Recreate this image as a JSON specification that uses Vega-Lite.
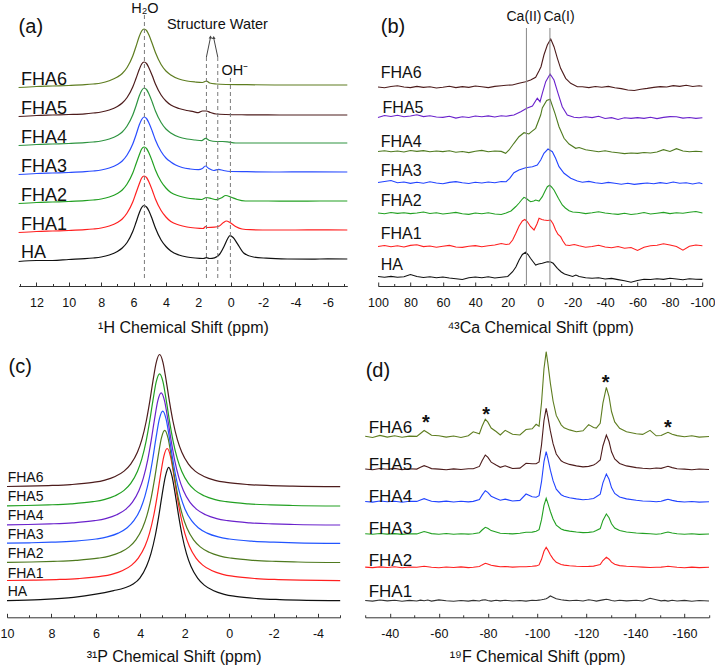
{
"$schema":"https://vega.github.io/schema/vega-lite/v6.json",
"background":"white",
"padding":0,
"config":{"font":"Liberation Sans","view":{"stroke":null},
"axis":{"grid":false,"labelFont":"Liberation Sans","titleFont":"Liberation Sans","labelFontSize":12.5,"titleFontSize":16,"titleFontWeight":"normal","labelColor":"#111","titleColor":"#111","domainColor":"#333","tickColor":"#333","labelFlush":false,"labelOverlap":false,"tickSize":-4,"labelPadding":14,"titlePadding":9,"labelExpr":"replace(datum.label, '−', '-')"},
"text":{"font":"Liberation Sans","color":"#111"}},
"datasets":{
"a":[
{"s":"HA","x":13.1,"y":24.5},{"s":"HA","x":12,"y":25.5},{"s":"HA","x":11,"y":25.5},{"s":"HA","x":10,"y":26.5},{"s":"HA","x":9,"y":27.3},{"s":"HA","x":8.5,"y":28},{"s":"HA","x":8,"y":29},{"s":"HA","x":7.5,"y":31},{"s":"HA","x":7,"y":34.5},{"s":"HA","x":6.7,"y":38},{"s":"HA","x":6.4,"y":43.5},{"s":"HA","x":6.05,"y":54.5},{"s":"HA","x":5.85,"y":63.5},{"s":"HA","x":5.65,"y":73},{"s":"HA","x":5.5,"y":78.5},{"s":"HA","x":5.35,"y":80.5},{"s":"HA","x":5.2,"y":79},{"s":"HA","x":5.05,"y":75},{"s":"HA","x":4.85,"y":67},{"s":"HA","x":4.65,"y":58},{"s":"HA","x":4.3,"y":46},{"s":"HA","x":4,"y":39.5},{"s":"HA","x":3.7,"y":35},{"s":"HA","x":3.2,"y":31},{"s":"HA","x":2.7,"y":29},{"s":"HA","x":2.2,"y":28},{"s":"HA","x":1.7,"y":27.5},{"s":"HA","x":1.5,"y":28.3},{"s":"HA","x":1.3,"y":27.5},{"s":"HA","x":1,"y":28.2},{"s":"HA","x":0.7,"y":31.5},{"s":"HA","x":0.4,"y":40},{"s":"HA","x":0.2,"y":47},{"s":"HA","x":0.05,"y":50.3},{"s":"HA","x":-0.15,"y":48.5},{"s":"HA","x":-0.4,"y":42.7},{"s":"HA","x":-0.8,"y":33},{"s":"HA","x":-1.4,"y":29},{"s":"HA","x":-2.2,"y":27.8},{"s":"HA","x":-3.5,"y":27},{"s":"HA","x":-5,"y":26.8},{"s":"HA","x":-6,"y":27.2},{"s":"HA","x":-7.2,"y":27},
{"s":"FHA1","x":13.1,"y":53.5},{"s":"FHA1","x":12,"y":54.5},{"s":"FHA1","x":11,"y":55},{"s":"FHA1","x":10,"y":55.5},{"s":"FHA1","x":9,"y":56.3},{"s":"FHA1","x":8.5,"y":57},{"s":"FHA1","x":8,"y":58},{"s":"FHA1","x":7.5,"y":60},{"s":"FHA1","x":7,"y":63.5},{"s":"FHA1","x":6.7,"y":67},{"s":"FHA1","x":6.4,"y":73},{"s":"FHA1","x":6.05,"y":84},{"s":"FHA1","x":5.85,"y":93},{"s":"FHA1","x":5.65,"y":102},{"s":"FHA1","x":5.5,"y":108},{"s":"FHA1","x":5.35,"y":110},{"s":"FHA1","x":5.2,"y":108.5},{"s":"FHA1","x":5.05,"y":104},{"s":"FHA1","x":4.85,"y":96},{"s":"FHA1","x":4.65,"y":87},{"s":"FHA1","x":4.3,"y":75.5},{"s":"FHA1","x":4,"y":69},{"s":"FHA1","x":3.7,"y":64.5},{"s":"FHA1","x":3.2,"y":61},{"s":"FHA1","x":2.7,"y":59},{"s":"FHA1","x":2.2,"y":58},{"s":"FHA1","x":1.7,"y":57.5},{"s":"FHA1","x":1.55,"y":59.5},{"s":"FHA1","x":1.45,"y":58.5},{"s":"FHA1","x":1,"y":58.8},{"s":"FHA1","x":0.7,"y":60},{"s":"FHA1","x":0.45,"y":63.5},{"s":"FHA1","x":0.26,"y":65},{"s":"FHA1","x":0.05,"y":63.5},{"s":"FHA1","x":-0.3,"y":59.5},{"s":"FHA1","x":-0.7,"y":57},{"s":"FHA1","x":-1.2,"y":56.3},{"s":"FHA1","x":-2.5,"y":56},{"s":"FHA1","x":-4,"y":56},{"s":"FHA1","x":-5.5,"y":56.2},{"s":"FHA1","x":-7.2,"y":56},
{"s":"FHA2","x":13.1,"y":82.5},{"s":"FHA2","x":12,"y":83.5},{"s":"FHA2","x":11,"y":84},{"s":"FHA2","x":10,"y":84.5},{"s":"FHA2","x":9,"y":85.3},{"s":"FHA2","x":8.5,"y":86},{"s":"FHA2","x":8,"y":87},{"s":"FHA2","x":7.5,"y":89},{"s":"FHA2","x":7,"y":92.5},{"s":"FHA2","x":6.7,"y":96},{"s":"FHA2","x":6.4,"y":102},{"s":"FHA2","x":6.05,"y":113},{"s":"FHA2","x":5.85,"y":122},{"s":"FHA2","x":5.65,"y":131},{"s":"FHA2","x":5.5,"y":137},{"s":"FHA2","x":5.35,"y":139},{"s":"FHA2","x":5.2,"y":137.5},{"s":"FHA2","x":5.05,"y":133},{"s":"FHA2","x":4.85,"y":125},{"s":"FHA2","x":4.65,"y":116},{"s":"FHA2","x":4.3,"y":104.5},{"s":"FHA2","x":4,"y":98},{"s":"FHA2","x":3.7,"y":93.5},{"s":"FHA2","x":3.2,"y":90},{"s":"FHA2","x":2.7,"y":88},{"s":"FHA2","x":2.2,"y":87},{"s":"FHA2","x":1.8,"y":86.5},{"s":"FHA2","x":1.5,"y":88.5},{"s":"FHA2","x":1.2,"y":87.5},{"s":"FHA2","x":0.9,"y":86.3},{"s":"FHA2","x":0.6,"y":88},{"s":"FHA2","x":0.3,"y":90.5},{"s":"FHA2","x":0,"y":89},{"s":"FHA2","x":-0.4,"y":86.5},{"s":"FHA2","x":-0.9,"y":85},{"s":"FHA2","x":-2,"y":85},{"s":"FHA2","x":-4,"y":84.8},{"s":"FHA2","x":-5.5,"y":85},{"s":"FHA2","x":-7.2,"y":85},
{"s":"FHA3","x":13.1,"y":111.5},{"s":"FHA3","x":12,"y":112.5},{"s":"FHA3","x":11,"y":113},{"s":"FHA3","x":10,"y":113.5},{"s":"FHA3","x":9,"y":114.3},{"s":"FHA3","x":8.5,"y":115},{"s":"FHA3","x":8,"y":116},{"s":"FHA3","x":7.5,"y":118},{"s":"FHA3","x":7,"y":121.5},{"s":"FHA3","x":6.7,"y":125},{"s":"FHA3","x":6.4,"y":131},{"s":"FHA3","x":6.05,"y":142},{"s":"FHA3","x":5.85,"y":151},{"s":"FHA3","x":5.65,"y":161},{"s":"FHA3","x":5.5,"y":166.5},{"s":"FHA3","x":5.35,"y":169},{"s":"FHA3","x":5.2,"y":167.5},{"s":"FHA3","x":5.05,"y":163},{"s":"FHA3","x":4.85,"y":155},{"s":"FHA3","x":4.65,"y":146},{"s":"FHA3","x":4.3,"y":134.5},{"s":"FHA3","x":4,"y":128},{"s":"FHA3","x":3.7,"y":124},{"s":"FHA3","x":3.4,"y":121},{"s":"FHA3","x":3,"y":118.5},{"s":"FHA3","x":2.5,"y":117},{"s":"FHA3","x":2,"y":116.3},{"s":"FHA3","x":1.75,"y":117.5},{"s":"FHA3","x":1.57,"y":120},{"s":"FHA3","x":1.35,"y":117.5},{"s":"FHA3","x":1.05,"y":115.5},{"s":"FHA3","x":0.75,"y":116.7},{"s":"FHA3","x":0.45,"y":115.5},{"s":"FHA3","x":0,"y":114.5},{"s":"FHA3","x":-1,"y":114.3},{"s":"FHA3","x":-3,"y":114},{"s":"FHA3","x":-5,"y":114.2},{"s":"FHA3","x":-7.2,"y":114},
{"s":"FHA4","x":13.1,"y":140.5},{"s":"FHA4","x":12,"y":141.5},{"s":"FHA4","x":11,"y":142},{"s":"FHA4","x":10,"y":142.5},{"s":"FHA4","x":9,"y":143.3},{"s":"FHA4","x":8.5,"y":144},{"s":"FHA4","x":8,"y":145},{"s":"FHA4","x":7.5,"y":147},{"s":"FHA4","x":7,"y":150.5},{"s":"FHA4","x":6.7,"y":154},{"s":"FHA4","x":6.4,"y":160},{"s":"FHA4","x":6.05,"y":171},{"s":"FHA4","x":5.85,"y":180},{"s":"FHA4","x":5.65,"y":190},{"s":"FHA4","x":5.5,"y":195.5},{"s":"FHA4","x":5.35,"y":198},{"s":"FHA4","x":5.2,"y":196.5},{"s":"FHA4","x":5.05,"y":192},{"s":"FHA4","x":4.85,"y":184},{"s":"FHA4","x":4.65,"y":175},{"s":"FHA4","x":4.3,"y":163.5},{"s":"FHA4","x":4,"y":157},{"s":"FHA4","x":3.7,"y":153},{"s":"FHA4","x":3.2,"y":149},{"s":"FHA4","x":2.7,"y":147},{"s":"FHA4","x":2.2,"y":146},{"s":"FHA4","x":1.8,"y":145.3},{"s":"FHA4","x":1.55,"y":147.7},{"s":"FHA4","x":1.3,"y":145.5},{"s":"FHA4","x":0.9,"y":144.5},{"s":"FHA4","x":0.5,"y":144.5},{"s":"FHA4","x":0.2,"y":144.2},{"s":"FHA4","x":-0.3,"y":143},{"s":"FHA4","x":-1.5,"y":143},{"s":"FHA4","x":-4,"y":143},{"s":"FHA4","x":-7.2,"y":143},
{"s":"FHA5","x":13.1,"y":169.5},{"s":"FHA5","x":12,"y":170.5},{"s":"FHA5","x":11,"y":171},{"s":"FHA5","x":10,"y":171.5},{"s":"FHA5","x":9,"y":172.2},{"s":"FHA5","x":8.5,"y":173},{"s":"FHA5","x":8,"y":174},{"s":"FHA5","x":7.5,"y":176},{"s":"FHA5","x":7,"y":179.5},{"s":"FHA5","x":6.7,"y":183},{"s":"FHA5","x":6.4,"y":188.5},{"s":"FHA5","x":6.05,"y":199},{"s":"FHA5","x":5.85,"y":207.5},{"s":"FHA5","x":5.65,"y":216.5},{"s":"FHA5","x":5.5,"y":222},{"s":"FHA5","x":5.35,"y":224},{"s":"FHA5","x":5.2,"y":222.5},{"s":"FHA5","x":5.05,"y":218},{"s":"FHA5","x":4.85,"y":210.5},{"s":"FHA5","x":4.65,"y":202},{"s":"FHA5","x":4.3,"y":191},{"s":"FHA5","x":4,"y":185},{"s":"FHA5","x":3.7,"y":181},{"s":"FHA5","x":3.2,"y":177.5},{"s":"FHA5","x":2.7,"y":175.5},{"s":"FHA5","x":2.3,"y":174.3},{"s":"FHA5","x":2,"y":173.3},{"s":"FHA5","x":1.75,"y":175},{"s":"FHA5","x":1.5,"y":175},{"s":"FHA5","x":1.25,"y":173.5},{"s":"FHA5","x":0.9,"y":172},{"s":"FHA5","x":0.3,"y":171.5},{"s":"FHA5","x":-1,"y":171.2},{"s":"FHA5","x":-3,"y":171},{"s":"FHA5","x":-5,"y":171},{"s":"FHA5","x":-7.2,"y":171},
{"s":"FHA6","x":13.1,"y":198.5},{"s":"FHA6","x":12,"y":199.5},{"s":"FHA6","x":11,"y":200},{"s":"FHA6","x":10,"y":200.5},{"s":"FHA6","x":9,"y":201.3},{"s":"FHA6","x":8.5,"y":202},{"s":"FHA6","x":8,"y":203},{"s":"FHA6","x":7.5,"y":205.3},{"s":"FHA6","x":7,"y":209},{"s":"FHA6","x":6.7,"y":212.5},{"s":"FHA6","x":6.4,"y":218.5},{"s":"FHA6","x":6.05,"y":230},{"s":"FHA6","x":5.85,"y":239.5},{"s":"FHA6","x":5.65,"y":249.5},{"s":"FHA6","x":5.5,"y":255},{"s":"FHA6","x":5.35,"y":257},{"s":"FHA6","x":5.2,"y":255.5},{"s":"FHA6","x":5.05,"y":251},{"s":"FHA6","x":4.85,"y":242.5},{"s":"FHA6","x":4.65,"y":233.5},{"s":"FHA6","x":4.3,"y":221.5},{"s":"FHA6","x":4,"y":215},{"s":"FHA6","x":3.7,"y":211},{"s":"FHA6","x":3.2,"y":207},{"s":"FHA6","x":2.7,"y":205},{"s":"FHA6","x":2.2,"y":204},{"s":"FHA6","x":1.75,"y":203.5},{"s":"FHA6","x":1.5,"y":205},{"s":"FHA6","x":1.3,"y":203},{"s":"FHA6","x":0.9,"y":202},{"s":"FHA6","x":0.3,"y":201.5},{"s":"FHA6","x":-1,"y":201.3},{"s":"FHA6","x":-3,"y":201},{"s":"FHA6","x":-5,"y":201},{"s":"FHA6","x":-7.2,"y":201}
],
"b":[
{"s":"HA","x":100,"y":9.5},{"s":"HA","x":96,"y":8.8},{"s":"HA","x":92,"y":9.6},{"s":"HA","x":88,"y":8.7},{"s":"HA","x":84,"y":9.2},{"s":"HA","x":80,"y":11.5},{"s":"HA","x":76,"y":9.5},{"s":"HA","x":72,"y":8.5},{"s":"HA","x":68,"y":9.3},{"s":"HA","x":64,"y":8.2},{"s":"HA","x":60,"y":9},{"s":"HA","x":56,"y":8},{"s":"HA","x":52,"y":7.3},{"s":"HA","x":48,"y":6.5},{"s":"HA","x":44,"y":8.3},{"s":"HA","x":40,"y":9},{"s":"HA","x":36,"y":8.2},{"s":"HA","x":32,"y":9.2},{"s":"HA","x":28,"y":8},{"s":"HA","x":24,"y":8.8},{"s":"HA","x":20,"y":9.5},{"s":"HA","x":17,"y":14.3},{"s":"HA","x":15,"y":19},{"s":"HA","x":13,"y":26},{"s":"HA","x":11,"y":31.5},{"s":"HA","x":9,"y":33.7},{"s":"HA","x":7.5,"y":31.5},{"s":"HA","x":6,"y":27.7},{"s":"HA","x":4,"y":23.5},{"s":"HA","x":2.8,"y":21},{"s":"HA","x":1,"y":22},{"s":"HA","x":-1.3,"y":22.7},{"s":"HA","x":-4.4,"y":24.3},{"s":"HA","x":-6.5,"y":24},{"s":"HA","x":-8,"y":22.7},{"s":"HA","x":-10.6,"y":17.7},{"s":"HA","x":-13,"y":14},{"s":"HA","x":-15,"y":12},{"s":"HA","x":-18,"y":10.5},{"s":"HA","x":-20,"y":9.5},{"s":"HA","x":-22,"y":11},{"s":"HA","x":-24,"y":9.5},{"s":"HA","x":-28,"y":8.3},{"s":"HA","x":-32,"y":7.7},{"s":"HA","x":-36,"y":8.2},{"s":"HA","x":-40,"y":7},{"s":"HA","x":-44,"y":7.6},{"s":"HA","x":-48,"y":6.4},{"s":"HA","x":-52,"y":5.3},{"s":"HA","x":-56,"y":3.8},{"s":"HA","x":-60,"y":5.5},{"s":"HA","x":-64,"y":6.8},{"s":"HA","x":-68,"y":6.5},{"s":"HA","x":-72,"y":7.3},{"s":"HA","x":-76,"y":6.6},{"s":"HA","x":-80,"y":7.8},{"s":"HA","x":-84,"y":7},{"s":"HA","x":-88,"y":6.3},{"s":"HA","x":-92,"y":7.2},{"s":"HA","x":-96,"y":6.8},{"s":"HA","x":-100,"y":6.6},
{"s":"FHA1","x":100,"y":39.5},{"s":"FHA1","x":96,"y":40.5},{"s":"FHA1","x":92,"y":39.2},{"s":"FHA1","x":88,"y":40.3},{"s":"FHA1","x":84,"y":39},{"s":"FHA1","x":80,"y":40.6},{"s":"FHA1","x":76,"y":41.2},{"s":"FHA1","x":72,"y":39.4},{"s":"FHA1","x":68,"y":40},{"s":"FHA1","x":64,"y":38.8},{"s":"FHA1","x":60,"y":39.8},{"s":"FHA1","x":56,"y":40.6},{"s":"FHA1","x":52,"y":39},{"s":"FHA1","x":48,"y":38.6},{"s":"FHA1","x":44,"y":39.8},{"s":"FHA1","x":40,"y":40.4},{"s":"FHA1","x":36,"y":39.2},{"s":"FHA1","x":32,"y":40.2},{"s":"FHA1","x":28,"y":41},{"s":"FHA1","x":24,"y":42.5},{"s":"FHA1","x":21,"y":41.5},{"s":"FHA1","x":19,"y":42},{"s":"FHA1","x":17,"y":46},{"s":"FHA1","x":15,"y":52.7},{"s":"FHA1","x":13,"y":60},{"s":"FHA1","x":11,"y":65},{"s":"FHA1","x":9.5,"y":66.5},{"s":"FHA1","x":8,"y":64.5},{"s":"FHA1","x":6,"y":59.5},{"s":"FHA1","x":3.8,"y":56},{"s":"FHA1","x":2,"y":62},{"s":"FHA1","x":0.7,"y":67.7},{"s":"FHA1","x":-1,"y":66.5},{"s":"FHA1","x":-2.3,"y":66},{"s":"FHA1","x":-4.5,"y":65.5},{"s":"FHA1","x":-6.4,"y":66},{"s":"FHA1","x":-8,"y":62},{"s":"FHA1","x":-9.5,"y":56},{"s":"FHA1","x":-11,"y":51.5},{"s":"FHA1","x":-12.6,"y":49.3},{"s":"FHA1","x":-14,"y":45},{"s":"FHA1","x":-15.7,"y":41},{"s":"FHA1","x":-18,"y":40.5},{"s":"FHA1","x":-21,"y":41.5},{"s":"FHA1","x":-24,"y":40.2},{"s":"FHA1","x":-28,"y":38.8},{"s":"FHA1","x":-32,"y":39.5},{"s":"FHA1","x":-36,"y":40.8},{"s":"FHA1","x":-40,"y":39},{"s":"FHA1","x":-44,"y":38.2},{"s":"FHA1","x":-48,"y":39.5},{"s":"FHA1","x":-52,"y":37.8},{"s":"FHA1","x":-56,"y":38.5},{"s":"FHA1","x":-60,"y":35.5},{"s":"FHA1","x":-64,"y":38.8},{"s":"FHA1","x":-68,"y":40.2},{"s":"FHA1","x":-72,"y":40.8},{"s":"FHA1","x":-76,"y":42.2},{"s":"FHA1","x":-80,"y":41},{"s":"FHA1","x":-84,"y":39.5},{"s":"FHA1","x":-88,"y":35.8},{"s":"FHA1","x":-92,"y":39.8},{"s":"FHA1","x":-96,"y":41},{"s":"FHA1","x":-100,"y":40.3},
{"s":"FHA2","x":100,"y":73},{"s":"FHA2","x":96,"y":72.2},{"s":"FHA2","x":92,"y":73.5},{"s":"FHA2","x":88,"y":72.6},{"s":"FHA2","x":84,"y":73.3},{"s":"FHA2","x":80,"y":72.4},{"s":"FHA2","x":76,"y":73},{"s":"FHA2","x":72,"y":74},{"s":"FHA2","x":68,"y":72.5},{"s":"FHA2","x":64,"y":73.2},{"s":"FHA2","x":60,"y":72},{"s":"FHA2","x":56,"y":72.8},{"s":"FHA2","x":52,"y":73.6},{"s":"FHA2","x":48,"y":72.3},{"s":"FHA2","x":44,"y":71.6},{"s":"FHA2","x":40,"y":73},{"s":"FHA2","x":36,"y":72.2},{"s":"FHA2","x":32,"y":73.3},{"s":"FHA2","x":28,"y":72},{"s":"FHA2","x":24,"y":71.5},{"s":"FHA2","x":21,"y":73},{"s":"FHA2","x":18,"y":75},{"s":"FHA2","x":15,"y":79.5},{"s":"FHA2","x":13,"y":83},{"s":"FHA2","x":11,"y":87},{"s":"FHA2","x":10,"y":88.7},{"s":"FHA2","x":8.5,"y":87.5},{"s":"FHA2","x":7,"y":85.5},{"s":"FHA2","x":5.9,"y":84.3},{"s":"FHA2","x":4,"y":85},{"s":"FHA2","x":2.8,"y":86},{"s":"FHA2","x":0.7,"y":85},{"s":"FHA2","x":-1.3,"y":89.3},{"s":"FHA2","x":-3,"y":95},{"s":"FHA2","x":-4.4,"y":99.3},{"s":"FHA2","x":-5.8,"y":100.7},{"s":"FHA2","x":-7,"y":99},{"s":"FHA2","x":-8.5,"y":96},{"s":"FHA2","x":-11.2,"y":87.7},{"s":"FHA2","x":-13.6,"y":81},{"s":"FHA2","x":-15.5,"y":78},{"s":"FHA2","x":-17.8,"y":75.3},{"s":"FHA2","x":-20,"y":74},{"s":"FHA2","x":-24,"y":73.5},{"s":"FHA2","x":-28,"y":72.4},{"s":"FHA2","x":-32,"y":73.2},{"s":"FHA2","x":-36,"y":74.2},{"s":"FHA2","x":-40,"y":73},{"s":"FHA2","x":-44,"y":72.2},{"s":"FHA2","x":-48,"y":71.6},{"s":"FHA2","x":-52,"y":72.8},{"s":"FHA2","x":-56,"y":71.5},{"s":"FHA2","x":-60,"y":72.3},{"s":"FHA2","x":-64,"y":73.5},{"s":"FHA2","x":-68,"y":72},{"s":"FHA2","x":-72,"y":72.8},{"s":"FHA2","x":-76,"y":73.6},{"s":"FHA2","x":-80,"y":72.4},{"s":"FHA2","x":-84,"y":73.2},{"s":"FHA2","x":-88,"y":72.7},{"s":"FHA2","x":-92,"y":73.8},{"s":"FHA2","x":-96,"y":74.5},{"s":"FHA2","x":-100,"y":73},
{"s":"FHA3","x":100,"y":103.5},{"s":"FHA3","x":96,"y":104.5},{"s":"FHA3","x":92,"y":105.5},{"s":"FHA3","x":88,"y":103.2},{"s":"FHA3","x":84,"y":104},{"s":"FHA3","x":80,"y":102.6},{"s":"FHA3","x":76,"y":103.8},{"s":"FHA3","x":72,"y":102.8},{"s":"FHA3","x":68,"y":104.2},{"s":"FHA3","x":64,"y":103},{"s":"FHA3","x":60,"y":102.2},{"s":"FHA3","x":56,"y":103.6},{"s":"FHA3","x":52,"y":104.4},{"s":"FHA3","x":48,"y":103.2},{"s":"FHA3","x":44,"y":102.5},{"s":"FHA3","x":40,"y":103.8},{"s":"FHA3","x":36,"y":103},{"s":"FHA3","x":32,"y":104},{"s":"FHA3","x":28,"y":103.2},{"s":"FHA3","x":24,"y":104.5},{"s":"FHA3","x":21,"y":104.3},{"s":"FHA3","x":18.8,"y":107.7},{"s":"FHA3","x":16.2,"y":113.3},{"s":"FHA3","x":13.1,"y":116},{"s":"FHA3","x":9,"y":118.3},{"s":"FHA3","x":4.8,"y":119.3},{"s":"FHA3","x":1.8,"y":121},{"s":"FHA3","x":-0.3,"y":126},{"s":"FHA3","x":-2.3,"y":132.7},{"s":"FHA3","x":-4.8,"y":137},{"s":"FHA3","x":-7.5,"y":134.3},{"s":"FHA3","x":-9.5,"y":127.7},{"s":"FHA3","x":-11.6,"y":119.3},{"s":"FHA3","x":-14.7,"y":112.7},{"s":"FHA3","x":-18.8,"y":107.7},{"s":"FHA3","x":-22.9,"y":105},{"s":"FHA3","x":-26,"y":103.8},{"s":"FHA3","x":-30,"y":104.6},{"s":"FHA3","x":-34,"y":103.2},{"s":"FHA3","x":-38,"y":102.5},{"s":"FHA3","x":-42,"y":103.6},{"s":"FHA3","x":-46,"y":102.7},{"s":"FHA3","x":-50,"y":101.8},{"s":"FHA3","x":-54,"y":102.8},{"s":"FHA3","x":-58,"y":101.6},{"s":"FHA3","x":-62,"y":102.4},{"s":"FHA3","x":-66,"y":103},{"s":"FHA3","x":-70,"y":102.2},{"s":"FHA3","x":-74,"y":103.4},{"s":"FHA3","x":-78,"y":102.5},{"s":"FHA3","x":-82,"y":104},{"s":"FHA3","x":-86,"y":102.8},{"s":"FHA3","x":-90,"y":103.2},{"s":"FHA3","x":-94,"y":102},{"s":"FHA3","x":-98,"y":103.3},{"s":"FHA3","x":-100,"y":102.2},
{"s":"FHA4","x":100,"y":134.5},{"s":"FHA4","x":96,"y":135.3},{"s":"FHA4","x":92,"y":134.2},{"s":"FHA4","x":88,"y":135},{"s":"FHA4","x":84,"y":134},{"s":"FHA4","x":80,"y":135.5},{"s":"FHA4","x":76,"y":134.6},{"s":"FHA4","x":72,"y":135.4},{"s":"FHA4","x":68,"y":134.2},{"s":"FHA4","x":64,"y":135},{"s":"FHA4","x":60,"y":134.4},{"s":"FHA4","x":56,"y":135.2},{"s":"FHA4","x":52,"y":133.8},{"s":"FHA4","x":48,"y":134.5},{"s":"FHA4","x":44,"y":133.4},{"s":"FHA4","x":40,"y":134.8},{"s":"FHA4","x":36,"y":135.6},{"s":"FHA4","x":32,"y":134.2},{"s":"FHA4","x":28,"y":135},{"s":"FHA4","x":24,"y":134.6},{"s":"FHA4","x":21.3,"y":132.7},{"s":"FHA4","x":19.2,"y":136},{"s":"FHA4","x":16.2,"y":142.7},{"s":"FHA4","x":13.1,"y":149.3},{"s":"FHA4","x":10,"y":153.3},{"s":"FHA4","x":7,"y":152},{"s":"FHA4","x":5.3,"y":154.3},{"s":"FHA4","x":2.8,"y":157.7},{"s":"FHA4","x":-0.3,"y":171},{"s":"FHA4","x":-1.3,"y":178},{"s":"FHA4","x":-4,"y":185.5},{"s":"FHA4","x":-6.1,"y":186.7},{"s":"FHA4","x":-9.1,"y":172.7},{"s":"FHA4","x":-11.6,"y":159.3},{"s":"FHA4","x":-14.7,"y":147.7},{"s":"FHA4","x":-17.8,"y":142},{"s":"FHA4","x":-21.9,"y":137.7},{"s":"FHA4","x":-24,"y":138.5},{"s":"FHA4","x":-28,"y":136.2},{"s":"FHA4","x":-32,"y":135.3},{"s":"FHA4","x":-36,"y":134.2},{"s":"FHA4","x":-40,"y":135.2},{"s":"FHA4","x":-44,"y":134},{"s":"FHA4","x":-48,"y":133.2},{"s":"FHA4","x":-52,"y":132.4},{"s":"FHA4","x":-56,"y":133},{"s":"FHA4","x":-60,"y":132.6},{"s":"FHA4","x":-64,"y":133.5},{"s":"FHA4","x":-68,"y":133},{"s":"FHA4","x":-72,"y":134},{"s":"FHA4","x":-76,"y":136.3},{"s":"FHA4","x":-80,"y":134.5},{"s":"FHA4","x":-84,"y":137.3},{"s":"FHA4","x":-88,"y":135},{"s":"FHA4","x":-92,"y":134.2},{"s":"FHA4","x":-96,"y":134.8},{"s":"FHA4","x":-100,"y":134.3},
{"s":"FHA5","x":100,"y":168.5},{"s":"FHA5","x":96,"y":170.5},{"s":"FHA5","x":92,"y":169.5},{"s":"FHA5","x":88,"y":170.8},{"s":"FHA5","x":84,"y":169.2},{"s":"FHA5","x":80,"y":170},{"s":"FHA5","x":76,"y":171.3},{"s":"FHA5","x":72,"y":169.4},{"s":"FHA5","x":68,"y":170.2},{"s":"FHA5","x":64,"y":169},{"s":"FHA5","x":60,"y":168.6},{"s":"FHA5","x":56,"y":169.8},{"s":"FHA5","x":52,"y":167.9},{"s":"FHA5","x":48,"y":169.2},{"s":"FHA5","x":44,"y":168.5},{"s":"FHA5","x":40,"y":170},{"s":"FHA5","x":36,"y":169.3},{"s":"FHA5","x":32,"y":170.1},{"s":"FHA5","x":28,"y":169},{"s":"FHA5","x":24,"y":170.3},{"s":"FHA5","x":21,"y":169.8},{"s":"FHA5","x":16.2,"y":171},{"s":"FHA5","x":12,"y":174.3},{"s":"FHA5","x":8.3,"y":177.7},{"s":"FHA5","x":4.8,"y":180},{"s":"FHA5","x":1.8,"y":187.7},{"s":"FHA5","x":0.1,"y":184.3},{"s":"FHA5","x":-1.3,"y":192.7},{"s":"FHA5","x":-3.4,"y":204.3},{"s":"FHA5","x":-6.1,"y":212},{"s":"FHA5","x":-8.5,"y":206},{"s":"FHA5","x":-11,"y":192.7},{"s":"FHA5","x":-13.6,"y":179.3},{"s":"FHA5","x":-16.7,"y":171},{"s":"FHA5","x":-20.8,"y":168.7},{"s":"FHA5","x":-24,"y":168.3},{"s":"FHA5","x":-28,"y":169.2},{"s":"FHA5","x":-32,"y":168.4},{"s":"FHA5","x":-36,"y":169.8},{"s":"FHA5","x":-40,"y":167.5},{"s":"FHA5","x":-44,"y":168.4},{"s":"FHA5","x":-48,"y":166.5},{"s":"FHA5","x":-52,"y":168.2},{"s":"FHA5","x":-56,"y":167.6},{"s":"FHA5","x":-60,"y":168.4},{"s":"FHA5","x":-64,"y":167.6},{"s":"FHA5","x":-68,"y":168.8},{"s":"FHA5","x":-72,"y":167.4},{"s":"FHA5","x":-76,"y":168.6},{"s":"FHA5","x":-80,"y":169.4},{"s":"FHA5","x":-84,"y":169.2},{"s":"FHA5","x":-88,"y":167.9},{"s":"FHA5","x":-92,"y":168.5},{"s":"FHA5","x":-96,"y":167.6},{"s":"FHA5","x":-100,"y":168.2},
{"s":"FHA6","x":100,"y":199},{"s":"FHA6","x":96,"y":198.2},{"s":"FHA6","x":92,"y":199.5},{"s":"FHA6","x":88,"y":200.2},{"s":"FHA6","x":84,"y":199},{"s":"FHA6","x":80,"y":198.4},{"s":"FHA6","x":76,"y":199.6},{"s":"FHA6","x":72,"y":198.6},{"s":"FHA6","x":68,"y":199.3},{"s":"FHA6","x":64,"y":198},{"s":"FHA6","x":60,"y":198.8},{"s":"FHA6","x":56,"y":199.8},{"s":"FHA6","x":52,"y":198.4},{"s":"FHA6","x":48,"y":199.4},{"s":"FHA6","x":44,"y":198.6},{"s":"FHA6","x":40,"y":200},{"s":"FHA6","x":36,"y":199.2},{"s":"FHA6","x":32,"y":198.4},{"s":"FHA6","x":28,"y":199.6},{"s":"FHA6","x":24,"y":200.3},{"s":"FHA6","x":21,"y":200.8},{"s":"FHA6","x":17.2,"y":201},{"s":"FHA6","x":13.1,"y":202.7},{"s":"FHA6","x":9,"y":204.3},{"s":"FHA6","x":5.9,"y":206},{"s":"FHA6","x":2.8,"y":208.7},{"s":"FHA6","x":0.7,"y":215.3},{"s":"FHA6","x":-0.5,"y":219.3},{"s":"FHA6","x":-2.3,"y":231},{"s":"FHA6","x":-4.4,"y":241},{"s":"FHA6","x":-6.5,"y":247},{"s":"FHA6","x":-8.5,"y":239.3},{"s":"FHA6","x":-10.6,"y":227.7},{"s":"FHA6","x":-12.6,"y":217.7},{"s":"FHA6","x":-15.7,"y":207.7},{"s":"FHA6","x":-18.8,"y":202.7},{"s":"FHA6","x":-22.9,"y":199.3},{"s":"FHA6","x":-26,"y":199.2},{"s":"FHA6","x":-30,"y":198.4},{"s":"FHA6","x":-34,"y":199.5},{"s":"FHA6","x":-38,"y":198.8},{"s":"FHA6","x":-42,"y":199.6},{"s":"FHA6","x":-46,"y":198.2},{"s":"FHA6","x":-50,"y":197.4},{"s":"FHA6","x":-54,"y":196},{"s":"FHA6","x":-58,"y":195.5},{"s":"FHA6","x":-62,"y":196.8},{"s":"FHA6","x":-66,"y":197.6},{"s":"FHA6","x":-70,"y":198.6},{"s":"FHA6","x":-74,"y":199.4},{"s":"FHA6","x":-78,"y":199},{"s":"FHA6","x":-82,"y":200.4},{"s":"FHA6","x":-86,"y":199.6},{"s":"FHA6","x":-90,"y":200.8},{"s":"FHA6","x":-94,"y":199.5},{"s":"FHA6","x":-98,"y":200.2},{"s":"FHA6","x":-100,"y":199.8}
],
"c":[
{"s":"HA","x":10,"y":16.7},{"s":"HA","x":8.5,"y":17.7},{"s":"HA","x":7,"y":19.9},{"s":"HA","x":6,"y":23.1},{"s":"HA","x":5.2,"y":26.7},{"s":"HA","x":4.72,"y":29.3},{"s":"HA","x":4.32,"y":33.2},{"s":"HA","x":4.02,"y":39.2},{"s":"HA","x":3.72,"y":51},{"s":"HA","x":3.52,"y":63.7},{"s":"HA","x":3.32,"y":82.3},{"s":"HA","x":3.17,"y":100.9},{"s":"HA","x":3.02,"y":122.2},{"s":"HA","x":2.87,"y":141},{"s":"HA","x":2.72,"y":150},{"s":"HA","x":2.57,"y":141},{"s":"HA","x":2.42,"y":122.2},{"s":"HA","x":2.27,"y":100.9},{"s":"HA","x":2.12,"y":82.3},{"s":"HA","x":1.92,"y":63.7},{"s":"HA","x":1.72,"y":51},{"s":"HA","x":1.42,"y":39.2},{"s":"HA","x":1.12,"y":32.2},{"s":"HA","x":0.72,"y":26.8},{"s":"HA","x":0.22,"y":23},{"s":"HA","x":-0.28,"y":20.9},{"s":"HA","x":-1.28,"y":18.7},{"s":"HA","x":-2.28,"y":17.7},{"s":"HA","x":-3.5,"y":17},{"s":"HA","x":-5,"y":16.6},
{"s":"FHA1","x":10,"y":36.8},{"s":"FHA1","x":8.79,"y":37.1},{"s":"FHA1","x":7.79,"y":37.7},{"s":"FHA1","x":6.79,"y":38.7},{"s":"FHA1","x":5.79,"y":40.9},{"s":"FHA1","x":5.29,"y":43},{"s":"FHA1","x":4.79,"y":46.8},{"s":"FHA1","x":4.39,"y":52.2},{"s":"FHA1","x":4.09,"y":59.2},{"s":"FHA1","x":3.79,"y":71},{"s":"FHA1","x":3.59,"y":83.7},{"s":"FHA1","x":3.39,"y":102.3},{"s":"FHA1","x":3.24,"y":120.9},{"s":"FHA1","x":3.09,"y":142.2},{"s":"FHA1","x":2.94,"y":161},{"s":"FHA1","x":2.79,"y":168.8},{"s":"FHA1","x":2.64,"y":161},{"s":"FHA1","x":2.49,"y":142.2},{"s":"FHA1","x":2.34,"y":120.9},{"s":"FHA1","x":2.19,"y":102.3},{"s":"FHA1","x":1.99,"y":83.7},{"s":"FHA1","x":1.79,"y":71},{"s":"FHA1","x":1.49,"y":59.2},{"s":"FHA1","x":1.19,"y":52.2},{"s":"FHA1","x":0.79,"y":46.8},{"s":"FHA1","x":0.29,"y":43},{"s":"FHA1","x":-0.21,"y":40.9},{"s":"FHA1","x":-1.21,"y":38.7},{"s":"FHA1","x":-2.21,"y":37.7},{"s":"FHA1","x":-3.21,"y":37.1},{"s":"FHA1","x":-5,"y":36.6},
{"s":"FHA2","x":10,"y":55},{"s":"FHA2","x":8.9,"y":55.3},{"s":"FHA2","x":7.9,"y":55.9},{"s":"FHA2","x":6.9,"y":56.9},{"s":"FHA2","x":5.9,"y":59.1},{"s":"FHA2","x":5.4,"y":61.2},{"s":"FHA2","x":4.9,"y":65},{"s":"FHA2","x":4.5,"y":70.4},{"s":"FHA2","x":4.2,"y":77.4},{"s":"FHA2","x":3.9,"y":89.2},{"s":"FHA2","x":3.7,"y":101.9},{"s":"FHA2","x":3.5,"y":120.5},{"s":"FHA2","x":3.35,"y":139.1},{"s":"FHA2","x":3.2,"y":160.4},{"s":"FHA2","x":3.05,"y":179.2},{"s":"FHA2","x":2.9,"y":187},{"s":"FHA2","x":2.75,"y":179.2},{"s":"FHA2","x":2.6,"y":160.4},{"s":"FHA2","x":2.45,"y":139.1},{"s":"FHA2","x":2.3,"y":120.5},{"s":"FHA2","x":2.1,"y":101.9},{"s":"FHA2","x":1.9,"y":89.2},{"s":"FHA2","x":1.6,"y":77.4},{"s":"FHA2","x":1.3,"y":70.4},{"s":"FHA2","x":0.9,"y":65},{"s":"FHA2","x":0.4,"y":61.2},{"s":"FHA2","x":-0.1,"y":59.1},{"s":"FHA2","x":-1.1,"y":56.9},{"s":"FHA2","x":-2.1,"y":55.9},{"s":"FHA2","x":-3.1,"y":55.3},{"s":"FHA2","x":-5,"y":54.8},
{"s":"FHA3","x":10,"y":74.2},{"s":"FHA3","x":8.99,"y":74.5},{"s":"FHA3","x":7.99,"y":75.1},{"s":"FHA3","x":6.99,"y":76.1},{"s":"FHA3","x":5.99,"y":78.3},{"s":"FHA3","x":5.49,"y":80.4},{"s":"FHA3","x":4.99,"y":84.2},{"s":"FHA3","x":4.59,"y":89.6},{"s":"FHA3","x":4.29,"y":96.6},{"s":"FHA3","x":3.99,"y":108.4},{"s":"FHA3","x":3.79,"y":121.1},{"s":"FHA3","x":3.59,"y":139.7},{"s":"FHA3","x":3.44,"y":158.3},{"s":"FHA3","x":3.29,"y":179.6},{"s":"FHA3","x":3.14,"y":198.4},{"s":"FHA3","x":2.99,"y":206.2},{"s":"FHA3","x":2.84,"y":198.4},{"s":"FHA3","x":2.69,"y":179.6},{"s":"FHA3","x":2.54,"y":158.3},{"s":"FHA3","x":2.39,"y":139.7},{"s":"FHA3","x":2.19,"y":121.1},{"s":"FHA3","x":1.99,"y":108.4},{"s":"FHA3","x":1.69,"y":96.6},{"s":"FHA3","x":1.39,"y":89.6},{"s":"FHA3","x":0.99,"y":84.2},{"s":"FHA3","x":0.49,"y":80.4},{"s":"FHA3","x":-0.01,"y":78.3},{"s":"FHA3","x":-1.01,"y":76.1},{"s":"FHA3","x":-2.01,"y":75.1},{"s":"FHA3","x":-3.01,"y":74.5},{"s":"FHA3","x":-5,"y":74},
{"s":"FHA4","x":10,"y":92.5},{"s":"FHA4","x":9.06,"y":92.8},{"s":"FHA4","x":8.06,"y":93.4},{"s":"FHA4","x":7.06,"y":94.4},{"s":"FHA4","x":6.06,"y":96.6},{"s":"FHA4","x":5.56,"y":98.7},{"s":"FHA4","x":5.06,"y":102.5},{"s":"FHA4","x":4.66,"y":107.9},{"s":"FHA4","x":4.36,"y":114.9},{"s":"FHA4","x":4.06,"y":126.7},{"s":"FHA4","x":3.86,"y":139.4},{"s":"FHA4","x":3.66,"y":158},{"s":"FHA4","x":3.51,"y":176.6},{"s":"FHA4","x":3.36,"y":197.9},{"s":"FHA4","x":3.21,"y":216.7},{"s":"FHA4","x":3.06,"y":224.5},{"s":"FHA4","x":2.91,"y":216.7},{"s":"FHA4","x":2.76,"y":197.9},{"s":"FHA4","x":2.61,"y":176.6},{"s":"FHA4","x":2.46,"y":158},{"s":"FHA4","x":2.26,"y":139.4},{"s":"FHA4","x":2.06,"y":126.7},{"s":"FHA4","x":1.76,"y":114.9},{"s":"FHA4","x":1.46,"y":107.9},{"s":"FHA4","x":1.06,"y":102.5},{"s":"FHA4","x":0.56,"y":98.7},{"s":"FHA4","x":0.06,"y":96.6},{"s":"FHA4","x":-0.94,"y":94.4},{"s":"FHA4","x":-1.94,"y":93.4},{"s":"FHA4","x":-2.94,"y":92.8},{"s":"FHA4","x":-5,"y":92.3},
{"s":"FHA5","x":10,"y":111.5},{"s":"FHA5","x":9.13,"y":111.8},{"s":"FHA5","x":8.13,"y":112.4},{"s":"FHA5","x":7.13,"y":113.4},{"s":"FHA5","x":6.13,"y":115.6},{"s":"FHA5","x":5.63,"y":117.7},{"s":"FHA5","x":5.13,"y":121.5},{"s":"FHA5","x":4.73,"y":126.9},{"s":"FHA5","x":4.43,"y":133.9},{"s":"FHA5","x":4.13,"y":145.7},{"s":"FHA5","x":3.93,"y":158.4},{"s":"FHA5","x":3.73,"y":177},{"s":"FHA5","x":3.58,"y":195.6},{"s":"FHA5","x":3.43,"y":216.9},{"s":"FHA5","x":3.28,"y":235.7},{"s":"FHA5","x":3.13,"y":243.5},{"s":"FHA5","x":2.98,"y":235.7},{"s":"FHA5","x":2.83,"y":216.9},{"s":"FHA5","x":2.68,"y":195.6},{"s":"FHA5","x":2.53,"y":177},{"s":"FHA5","x":2.33,"y":158.4},{"s":"FHA5","x":2.13,"y":145.7},{"s":"FHA5","x":1.83,"y":133.9},{"s":"FHA5","x":1.53,"y":126.9},{"s":"FHA5","x":1.13,"y":121.5},{"s":"FHA5","x":0.63,"y":117.7},{"s":"FHA5","x":0.13,"y":115.6},{"s":"FHA5","x":-0.87,"y":113.4},{"s":"FHA5","x":-1.87,"y":112.4},{"s":"FHA5","x":-2.87,"y":111.8},{"s":"FHA5","x":-5,"y":111.3},
{"s":"FHA6","x":10,"y":130.8},{"s":"FHA6","x":9.13,"y":131.1},{"s":"FHA6","x":8.13,"y":131.7},{"s":"FHA6","x":7.13,"y":132.7},{"s":"FHA6","x":6.13,"y":134.9},{"s":"FHA6","x":5.63,"y":137},{"s":"FHA6","x":5.13,"y":140.8},{"s":"FHA6","x":4.73,"y":146.2},{"s":"FHA6","x":4.43,"y":153.2},{"s":"FHA6","x":4.13,"y":165},{"s":"FHA6","x":3.93,"y":177.7},{"s":"FHA6","x":3.73,"y":196.3},{"s":"FHA6","x":3.58,"y":214.9},{"s":"FHA6","x":3.43,"y":236.2},{"s":"FHA6","x":3.28,"y":255},{"s":"FHA6","x":3.13,"y":262.8},{"s":"FHA6","x":2.98,"y":255},{"s":"FHA6","x":2.83,"y":236.2},{"s":"FHA6","x":2.68,"y":214.9},{"s":"FHA6","x":2.53,"y":196.3},{"s":"FHA6","x":2.33,"y":177.7},{"s":"FHA6","x":2.13,"y":165},{"s":"FHA6","x":1.83,"y":153.2},{"s":"FHA6","x":1.53,"y":146.2},{"s":"FHA6","x":1.13,"y":140.8},{"s":"FHA6","x":0.63,"y":137},{"s":"FHA6","x":0.13,"y":134.9},{"s":"FHA6","x":-0.87,"y":132.7},{"s":"FHA6","x":-1.87,"y":131.7},{"s":"FHA6","x":-2.87,"y":131.1},{"s":"FHA6","x":-5,"y":130.6}
],
"d":[
{"s":"FHA6","x":-30,"y":181.1},{"s":"FHA6","x":-33,"y":179.8},{"s":"FHA6","x":-36,"y":181.9},{"s":"FHA6","x":-39,"y":180.2},{"s":"FHA6","x":-42,"y":181.5},{"s":"FHA6","x":-45,"y":180},{"s":"FHA6","x":-48,"y":181.2},{"s":"FHA6","x":-51,"y":180.9},{"s":"FHA6","x":-52.5,"y":183.8},{"s":"FHA6","x":-54,"y":186.8},{"s":"FHA6","x":-55.5,"y":184.5},{"s":"FHA6","x":-57,"y":182},{"s":"FHA6","x":-60,"y":181.6},{"s":"FHA6","x":-63,"y":180.2},{"s":"FHA6","x":-66,"y":181.3},{"s":"FHA6","x":-69,"y":179.8},{"s":"FHA6","x":-72,"y":181.5},{"s":"FHA6","x":-74,"y":185.5},{"s":"FHA6","x":-76.5,"y":183.6},{"s":"FHA6","x":-77.6,"y":191},{"s":"FHA6","x":-78.9,"y":198},{"s":"FHA6","x":-79.9,"y":195.4},{"s":"FHA6","x":-81.3,"y":189.3},{"s":"FHA6","x":-83.3,"y":185.8},{"s":"FHA6","x":-85,"y":182.4},{"s":"FHA6","x":-87,"y":187},{"s":"FHA6","x":-90,"y":183},{"s":"FHA6","x":-93,"y":182.3},{"s":"FHA6","x":-95.5,"y":187.8},{"s":"FHA6","x":-98,"y":188.5},{"s":"FHA6","x":-99.6,"y":193},{"s":"FHA6","x":-100.8,"y":191},{"s":"FHA6","x":-101.8,"y":214.6},{"s":"FHA6","x":-102.8,"y":248.6},{"s":"FHA6","x":-103.7,"y":265.6},{"s":"FHA6","x":-104.4,"y":253.7},{"s":"FHA6","x":-105.4,"y":234.2},{"s":"FHA6","x":-106.5,"y":216.3},{"s":"FHA6","x":-107.8,"y":201.9},{"s":"FHA6","x":-109.8,"y":192.5},{"s":"FHA6","x":-111,"y":189.5},{"s":"FHA6","x":-113.2,"y":187.4},{"s":"FHA6","x":-116,"y":185.6},{"s":"FHA6","x":-118.7,"y":186.5},{"s":"FHA6","x":-121,"y":192.7},{"s":"FHA6","x":-123,"y":189.8},{"s":"FHA6","x":-124.1,"y":189.2},{"s":"FHA6","x":-125.7,"y":194},{"s":"FHA6","x":-126.8,"y":214.2},{"s":"FHA6","x":-128.2,"y":230},{"s":"FHA6","x":-129.3,"y":220.6},{"s":"FHA6","x":-130.3,"y":205.8},{"s":"FHA6","x":-131.6,"y":195.4},{"s":"FHA6","x":-133.6,"y":189},{"s":"FHA6","x":-136.4,"y":185.5},{"s":"FHA6","x":-140.4,"y":183.6},{"s":"FHA6","x":-143,"y":182.9},{"s":"FHA6","x":-146,"y":187},{"s":"FHA6","x":-148.5,"y":181.5},{"s":"FHA6","x":-150.5,"y":181.8},{"s":"FHA6","x":-152,"y":183.6},{"s":"FHA6","x":-153.3,"y":185},{"s":"FHA6","x":-155,"y":183},{"s":"FHA6","x":-157,"y":181.7},{"s":"FHA6","x":-160,"y":180.5},{"s":"FHA6","x":-163,"y":181.5},{"s":"FHA6","x":-166,"y":180.2},{"s":"FHA6","x":-170,"y":180.8},
{"s":"FHA5","x":-30,"y":148.3},{"s":"FHA5","x":-33,"y":147.6},{"s":"FHA5","x":-36,"y":148.8},{"s":"FHA5","x":-39,"y":148},{"s":"FHA5","x":-42,"y":148.9},{"s":"FHA5","x":-45,"y":147.5},{"s":"FHA5","x":-48,"y":148.6},{"s":"FHA5","x":-51,"y":148.2},{"s":"FHA5","x":-52.5,"y":150},{"s":"FHA5","x":-54,"y":151.6},{"s":"FHA5","x":-55.5,"y":150.3},{"s":"FHA5","x":-57,"y":148.7},{"s":"FHA5","x":-60,"y":148.2},{"s":"FHA5","x":-63,"y":147.5},{"s":"FHA5","x":-66,"y":148.4},{"s":"FHA5","x":-69,"y":147.8},{"s":"FHA5","x":-72,"y":148.6},{"s":"FHA5","x":-74,"y":148.5},{"s":"FHA5","x":-76.5,"y":150.9},{"s":"FHA5","x":-77.6,"y":156.6},{"s":"FHA5","x":-78.9,"y":162.3},{"s":"FHA5","x":-79.9,"y":160.2},{"s":"FHA5","x":-81.3,"y":155.2},{"s":"FHA5","x":-83.3,"y":152.3},{"s":"FHA5","x":-85,"y":150},{"s":"FHA5","x":-87,"y":151.5},{"s":"FHA5","x":-90,"y":148.8},{"s":"FHA5","x":-93,"y":149.2},{"s":"FHA5","x":-95.5,"y":154},{"s":"FHA5","x":-98,"y":153.5},{"s":"FHA5","x":-99.6,"y":153.5},{"s":"FHA5","x":-100.8,"y":155.3},{"s":"FHA5","x":-101.8,"y":172.4},{"s":"FHA5","x":-102.8,"y":196.8},{"s":"FHA5","x":-103.7,"y":209},{"s":"FHA5","x":-104.4,"y":200.5},{"s":"FHA5","x":-105.4,"y":186.4},{"s":"FHA5","x":-106.5,"y":173.6},{"s":"FHA5","x":-107.8,"y":163.3},{"s":"FHA5","x":-109.8,"y":156.5},{"s":"FHA5","x":-111,"y":154.7},{"s":"FHA5","x":-113.2,"y":152.9},{"s":"FHA5","x":-116,"y":151.4},{"s":"FHA5","x":-118.7,"y":150.4},{"s":"FHA5","x":-121,"y":150.9},{"s":"FHA5","x":-123,"y":152.3},{"s":"FHA5","x":-124.1,"y":153.9},{"s":"FHA5","x":-125.7,"y":157.3},{"s":"FHA5","x":-126.8,"y":171.3},{"s":"FHA5","x":-128.2,"y":182.3},{"s":"FHA5","x":-129.3,"y":175.8},{"s":"FHA5","x":-130.3,"y":165.5},{"s":"FHA5","x":-131.6,"y":158.3},{"s":"FHA5","x":-133.6,"y":153.8},{"s":"FHA5","x":-136.4,"y":151.4},{"s":"FHA5","x":-140.4,"y":149.7},{"s":"FHA5","x":-143,"y":149},{"s":"FHA5","x":-146,"y":148.5},{"s":"FHA5","x":-148.5,"y":149.3},{"s":"FHA5","x":-150.5,"y":148.9},{"s":"FHA5","x":-152,"y":150},{"s":"FHA5","x":-153.3,"y":151},{"s":"FHA5","x":-155,"y":149.7},{"s":"FHA5","x":-157,"y":148.6},{"s":"FHA5","x":-160,"y":148.2},{"s":"FHA5","x":-163,"y":147.6},{"s":"FHA5","x":-166,"y":148.3},{"s":"FHA5","x":-170,"y":147.8},
{"s":"FHA4","x":-30,"y":115.8},{"s":"FHA4","x":-33,"y":115.2},{"s":"FHA4","x":-36,"y":116.3},{"s":"FHA4","x":-39,"y":115.6},{"s":"FHA4","x":-42,"y":116.1},{"s":"FHA4","x":-45,"y":115},{"s":"FHA4","x":-48,"y":116},{"s":"FHA4","x":-51,"y":115.9},{"s":"FHA4","x":-52.5,"y":117.3},{"s":"FHA4","x":-54,"y":118.6},{"s":"FHA4","x":-55.5,"y":117.4},{"s":"FHA4","x":-57,"y":116},{"s":"FHA4","x":-60,"y":115.4},{"s":"FHA4","x":-63,"y":116.2},{"s":"FHA4","x":-66,"y":115.3},{"s":"FHA4","x":-69,"y":116},{"s":"FHA4","x":-72,"y":115.4},{"s":"FHA4","x":-74,"y":115.9},{"s":"FHA4","x":-76.5,"y":117.8},{"s":"FHA4","x":-77.6,"y":122.2},{"s":"FHA4","x":-78.9,"y":126.6},{"s":"FHA4","x":-79.9,"y":125},{"s":"FHA4","x":-81.3,"y":121.1},{"s":"FHA4","x":-83.3,"y":118.9},{"s":"FHA4","x":-85,"y":117.1},{"s":"FHA4","x":-87,"y":118.2},{"s":"FHA4","x":-90,"y":116.3},{"s":"FHA4","x":-93,"y":116.9},{"s":"FHA4","x":-95.5,"y":123.3},{"s":"FHA4","x":-98,"y":120.6},{"s":"FHA4","x":-99.6,"y":120.1},{"s":"FHA4","x":-100.8,"y":121.6},{"s":"FHA4","x":-101.8,"y":135.6},{"s":"FHA4","x":-102.8,"y":155.6},{"s":"FHA4","x":-103.7,"y":165.6},{"s":"FHA4","x":-104.4,"y":158.6},{"s":"FHA4","x":-105.4,"y":147.1},{"s":"FHA4","x":-106.5,"y":136.6},{"s":"FHA4","x":-107.8,"y":128.1},{"s":"FHA4","x":-109.8,"y":122.6},{"s":"FHA4","x":-111,"y":121.1},{"s":"FHA4","x":-113.2,"y":119.6},{"s":"FHA4","x":-116,"y":118.4},{"s":"FHA4","x":-118.7,"y":117.6},{"s":"FHA4","x":-121,"y":118},{"s":"FHA4","x":-123,"y":118.8},{"s":"FHA4","x":-124.1,"y":120.5},{"s":"FHA4","x":-125.7,"y":123.1},{"s":"FHA4","x":-126.8,"y":134.4},{"s":"FHA4","x":-128.2,"y":143.3},{"s":"FHA4","x":-129.3,"y":138},{"s":"FHA4","x":-130.3,"y":129.7},{"s":"FHA4","x":-131.6,"y":123.9},{"s":"FHA4","x":-133.6,"y":120.3},{"s":"FHA4","x":-136.4,"y":118.4},{"s":"FHA4","x":-140.4,"y":117},{"s":"FHA4","x":-143,"y":116.3},{"s":"FHA4","x":-146,"y":116},{"s":"FHA4","x":-148.5,"y":115.5},{"s":"FHA4","x":-150.5,"y":116.1},{"s":"FHA4","x":-152,"y":117.2},{"s":"FHA4","x":-153.3,"y":118.1},{"s":"FHA4","x":-155,"y":116.9},{"s":"FHA4","x":-157,"y":115.9},{"s":"FHA4","x":-160,"y":115.3},{"s":"FHA4","x":-163,"y":115.8},{"s":"FHA4","x":-166,"y":115.2},{"s":"FHA4","x":-170,"y":115.6},
{"s":"FHA3","x":-30,"y":83.5},{"s":"FHA3","x":-33,"y":83},{"s":"FHA3","x":-36,"y":83.8},{"s":"FHA3","x":-39,"y":83.2},{"s":"FHA3","x":-42,"y":83.7},{"s":"FHA3","x":-45,"y":82.9},{"s":"FHA3","x":-48,"y":83.6},{"s":"FHA3","x":-51,"y":83.4},{"s":"FHA3","x":-52.5,"y":84.6},{"s":"FHA3","x":-54,"y":85.8},{"s":"FHA3","x":-55.5,"y":84.8},{"s":"FHA3","x":-57,"y":83.7},{"s":"FHA3","x":-60,"y":83.1},{"s":"FHA3","x":-63,"y":83.8},{"s":"FHA3","x":-66,"y":83},{"s":"FHA3","x":-69,"y":83.6},{"s":"FHA3","x":-72,"y":83.2},{"s":"FHA3","x":-74,"y":83.5},{"s":"FHA3","x":-76.5,"y":84.6},{"s":"FHA3","x":-77.6,"y":87.3},{"s":"FHA3","x":-78.9,"y":90},{"s":"FHA3","x":-79.9,"y":89},{"s":"FHA3","x":-81.3,"y":86.7},{"s":"FHA3","x":-83.3,"y":85.3},{"s":"FHA3","x":-85,"y":84.1},{"s":"FHA3","x":-87,"y":83.8},{"s":"FHA3","x":-90,"y":83.4},{"s":"FHA3","x":-93,"y":84},{"s":"FHA3","x":-95.5,"y":85},{"s":"FHA3","x":-98,"y":85.2},{"s":"FHA3","x":-99.6,"y":86},{"s":"FHA3","x":-100.8,"y":87.6},{"s":"FHA3","x":-101.8,"y":97.6},{"s":"FHA3","x":-102.8,"y":111.9},{"s":"FHA3","x":-103.7,"y":119},{"s":"FHA3","x":-104.4,"y":114},{"s":"FHA3","x":-105.4,"y":105.8},{"s":"FHA3","x":-106.5,"y":98.3},{"s":"FHA3","x":-107.8,"y":92.2},{"s":"FHA3","x":-109.8,"y":88.3},{"s":"FHA3","x":-111,"y":87.2},{"s":"FHA3","x":-113.2,"y":86.2},{"s":"FHA3","x":-116,"y":85.3},{"s":"FHA3","x":-118.7,"y":84.7},{"s":"FHA3","x":-121,"y":84.9},{"s":"FHA3","x":-123,"y":85.6},{"s":"FHA3","x":-124.1,"y":86.8},{"s":"FHA3","x":-125.7,"y":88.7},{"s":"FHA3","x":-126.8,"y":96.9},{"s":"FHA3","x":-128.2,"y":103.3},{"s":"FHA3","x":-129.3,"y":99.5},{"s":"FHA3","x":-130.3,"y":93.5},{"s":"FHA3","x":-131.6,"y":89.3},{"s":"FHA3","x":-133.6,"y":86.7},{"s":"FHA3","x":-136.4,"y":85.3},{"s":"FHA3","x":-140.4,"y":84.3},{"s":"FHA3","x":-143,"y":83.9},{"s":"FHA3","x":-146,"y":83.5},{"s":"FHA3","x":-148.5,"y":83.1},{"s":"FHA3","x":-150.5,"y":83.6},{"s":"FHA3","x":-152,"y":84.5},{"s":"FHA3","x":-153.3,"y":85.3},{"s":"FHA3","x":-155,"y":84.3},{"s":"FHA3","x":-157,"y":83.5},{"s":"FHA3","x":-160,"y":83.1},{"s":"FHA3","x":-163,"y":83.6},{"s":"FHA3","x":-166,"y":82.9},{"s":"FHA3","x":-170,"y":83.3},
{"s":"FHA2","x":-30,"y":50.2},{"s":"FHA2","x":-33,"y":49.7},{"s":"FHA2","x":-36,"y":50.4},{"s":"FHA2","x":-39,"y":49.8},{"s":"FHA2","x":-42,"y":50.5},{"s":"FHA2","x":-45,"y":49.6},{"s":"FHA2","x":-48,"y":50.3},{"s":"FHA2","x":-51,"y":50.1},{"s":"FHA2","x":-52.5,"y":50.6},{"s":"FHA2","x":-54,"y":51},{"s":"FHA2","x":-55.5,"y":50.5},{"s":"FHA2","x":-57,"y":50},{"s":"FHA2","x":-60,"y":49.6},{"s":"FHA2","x":-63,"y":50.3},{"s":"FHA2","x":-66,"y":49.8},{"s":"FHA2","x":-69,"y":50.4},{"s":"FHA2","x":-72,"y":49.7},{"s":"FHA2","x":-74,"y":50.1},{"s":"FHA2","x":-76.5,"y":50.8},{"s":"FHA2","x":-77.6,"y":52.4},{"s":"FHA2","x":-78.9,"y":54},{"s":"FHA2","x":-79.9,"y":53.4},{"s":"FHA2","x":-81.3,"y":52},{"s":"FHA2","x":-83.3,"y":51.2},{"s":"FHA2","x":-85,"y":50.5},{"s":"FHA2","x":-87,"y":50.8},{"s":"FHA2","x":-90,"y":50.2},{"s":"FHA2","x":-93,"y":50.6},{"s":"FHA2","x":-95.5,"y":50.6},{"s":"FHA2","x":-98,"y":51},{"s":"FHA2","x":-99.6,"y":51.4},{"s":"FHA2","x":-100.8,"y":52.4},{"s":"FHA2","x":-101.8,"y":58},{"s":"FHA2","x":-102.8,"y":66},{"s":"FHA2","x":-103.7,"y":70},{"s":"FHA2","x":-104.4,"y":67.2},{"s":"FHA2","x":-105.4,"y":62.6},{"s":"FHA2","x":-106.5,"y":58.4},{"s":"FHA2","x":-107.8,"y":55},{"s":"FHA2","x":-109.8,"y":52.8},{"s":"FHA2","x":-111,"y":52.2},{"s":"FHA2","x":-113.2,"y":51.6},{"s":"FHA2","x":-116,"y":51.1},{"s":"FHA2","x":-118.7,"y":50.8},{"s":"FHA2","x":-121,"y":50.9},{"s":"FHA2","x":-123,"y":51.2},{"s":"FHA2","x":-124.1,"y":51.8},{"s":"FHA2","x":-125.7,"y":52.7},{"s":"FHA2","x":-126.8,"y":56.8},{"s":"FHA2","x":-128.2,"y":60},{"s":"FHA2","x":-129.3,"y":58.1},{"s":"FHA2","x":-130.3,"y":55.1},{"s":"FHA2","x":-131.6,"y":53},{"s":"FHA2","x":-133.6,"y":51.7},{"s":"FHA2","x":-136.4,"y":51},{"s":"FHA2","x":-140.4,"y":50.5},{"s":"FHA2","x":-143,"y":50.2},{"s":"FHA2","x":-146,"y":49.8},{"s":"FHA2","x":-148.5,"y":50.1},{"s":"FHA2","x":-150.5,"y":50.2},{"s":"FHA2","x":-152,"y":50.6},{"s":"FHA2","x":-153.3,"y":51},{"s":"FHA2","x":-155,"y":50.5},{"s":"FHA2","x":-157,"y":50},{"s":"FHA2","x":-160,"y":49.6},{"s":"FHA2","x":-163,"y":50.2},{"s":"FHA2","x":-166,"y":49.7},{"s":"FHA2","x":-170,"y":50.1},
{"s":"FHA1","x":-30,"y":16.8},{"s":"FHA1","x":-33,"y":16.2},{"s":"FHA1","x":-36,"y":17.3},{"s":"FHA1","x":-39,"y":16.4},{"s":"FHA1","x":-42,"y":17},{"s":"FHA1","x":-45,"y":16},{"s":"FHA1","x":-48,"y":16.9},{"s":"FHA1","x":-51,"y":16.3},{"s":"FHA1","x":-52.5,"y":17.2},{"s":"FHA1","x":-54,"y":16.5},{"s":"FHA1","x":-55.5,"y":17.3},{"s":"FHA1","x":-57,"y":16.2},{"s":"FHA1","x":-60,"y":17.4},{"s":"FHA1","x":-63,"y":16.6},{"s":"FHA1","x":-66,"y":16},{"s":"FHA1","x":-69,"y":16.8},{"s":"FHA1","x":-72,"y":16.2},{"s":"FHA1","x":-74,"y":16.9},{"s":"FHA1","x":-76.5,"y":16.3},{"s":"FHA1","x":-77.6,"y":17.2},{"s":"FHA1","x":-78.9,"y":17.5},{"s":"FHA1","x":-79.9,"y":16.8},{"s":"FHA1","x":-81.3,"y":16.2},{"s":"FHA1","x":-83.3,"y":17},{"s":"FHA1","x":-85,"y":16.4},{"s":"FHA1","x":-87,"y":17.1},{"s":"FHA1","x":-90,"y":16.3},{"s":"FHA1","x":-93,"y":16.8},{"s":"FHA1","x":-95.5,"y":16.2},{"s":"FHA1","x":-98,"y":17},{"s":"FHA1","x":-99.6,"y":16.8},{"s":"FHA1","x":-100.8,"y":17.2},{"s":"FHA1","x":-101.8,"y":17.5},{"s":"FHA1","x":-102.8,"y":18},{"s":"FHA1","x":-103.7,"y":18.6},{"s":"FHA1","x":-104.4,"y":19.5},{"s":"FHA1","x":-105.4,"y":21.3},{"s":"FHA1","x":-106.5,"y":20},{"s":"FHA1","x":-107.8,"y":18.5},{"s":"FHA1","x":-109.8,"y":17.6},{"s":"FHA1","x":-111,"y":17.2},{"s":"FHA1","x":-113.2,"y":16.6},{"s":"FHA1","x":-116,"y":17.1},{"s":"FHA1","x":-118.7,"y":16.3},{"s":"FHA1","x":-121,"y":17.5},{"s":"FHA1","x":-123,"y":16.8},{"s":"FHA1","x":-124.1,"y":16.2},{"s":"FHA1","x":-125.7,"y":16.9},{"s":"FHA1","x":-126.8,"y":17.4},{"s":"FHA1","x":-128.2,"y":18},{"s":"FHA1","x":-129.3,"y":17.5},{"s":"FHA1","x":-130.3,"y":16.8},{"s":"FHA1","x":-131.6,"y":16.3},{"s":"FHA1","x":-133.6,"y":17},{"s":"FHA1","x":-136.4,"y":16.4},{"s":"FHA1","x":-140.4,"y":17},{"s":"FHA1","x":-143,"y":16.3},{"s":"FHA1","x":-146,"y":19},{"s":"FHA1","x":-148.5,"y":17.6},{"s":"FHA1","x":-150.5,"y":16.4},{"s":"FHA1","x":-152,"y":16.9},{"s":"FHA1","x":-153.3,"y":16.2},{"s":"FHA1","x":-155,"y":17},{"s":"FHA1","x":-157,"y":16.3},{"s":"FHA1","x":-160,"y":16.9},{"s":"FHA1","x":-163,"y":16.1},{"s":"FHA1","x":-166,"y":16.8},{"s":"FHA1","x":-170,"y":16.3}
]
},
"columns":2,
"bounds":"flush",
"spacing":{"row":50.3,"column":17.2},
"resolve":{"scale":{"color":"independent","x":"independent","y":"independent"}},
"concat":[
{"width":340.3,"height":286,
"layer":[
{"data":{"name":"a"},"mark":{"type":"line","interpolate":"monotone","strokeWidth":1.2},
"encoding":{
"x":{"field":"x","type":"quantitative","scale":{"domain":[13.1,-7.2],"range":[11.6,340.3],"nice":false,"zero":false},"axis":{"orient":"bottom","values":[12,10,8,6,4,2,0,-2,-4,-6],"title":"¹H Chemical Shift (ppm)","titlePadding":11}},
"y":{"field":"y","type":"quantitative","scale":{"domain":[0,286],"nice":false,"zero":false},"axis":null},
"color":{"field":"s","type":"nominal","scale":{"domain":["HA","FHA1","FHA2","FHA3","FHA4","FHA5","FHA6"],"range":["#111111","#ff2020","#22a022","#2a4dff","#2e9440","#4d1c1c","#5e7d20"]},"legend":null},
"order":{"field":"x","type":"quantitative","sort":"descending"}}},
{"data":{"values":[{"x":5.33,"y":8,"y2":271},{"x":1.5,"y":8,"y2":229},{"x":0.8,"y":8,"y2":229},{"x":0.02,"y":8,"y2":209}]},
"mark":{"type":"rule","strokeDash":[4,3],"color":"#7a7a7a","strokeWidth":1},
"encoding":{"x":{"field":"x","type":"quantitative","axis":null},"y":{"field":"y","type":"quantitative","axis":null},"y2":{"field":"y2"}}},
{"data":{"values":[{"x":1.5,"x2":1.25,"y":229,"y2":248.5},{"x":0.8,"x2":1.05,"y":229,"y2":248}]},
"mark":{"type":"rule","color":"#444","strokeWidth":1},
"encoding":{"x":{"field":"x","type":"quantitative","axis":null},"x2":{"field":"x2"},"y":{"field":"y","type":"quantitative","axis":null},"y2":{"field":"y2"}}},
{"data":{"values":[{"x":1.25,"y":249},{"x":1.05,"y":248.5}]},
"mark":{"type":"point","shape":"triangle-up","filled":true,"size":14,"color":"#444","opacity":1},
"encoding":{"x":{"field":"x","type":"quantitative","axis":null},"y":{"field":"y","type":"quantitative","axis":null}}},
{"data":{"values":[{"s":"FHA6","x":12.95,"y":201},{"s":"FHA5","x":12.95,"y":172},{"s":"FHA4","x":12.95,"y":143.3},{"s":"FHA3","x":12.95,"y":113.7},{"s":"FHA2","x":12.95,"y":84.7},{"s":"FHA1","x":12.95,"y":56},{"s":"HA","x":12.95,"y":27.7}]},
"mark":{"type":"text","align":"left","baseline":"alphabetic","fontSize":18},
"encoding":{"x":{"field":"x","type":"quantitative","axis":{"orient":"bottom","values":[13,11,9,7,5,3,1,-1,-3,-5,-7],"labels":false,"domain":false,"title":null,"tickSize":-2.5}},"y":{"field":"y","type":"quantitative","axis":null},"text":{"field":"s"}}},
{"data":{"values":[{"t":"H₂O","x":5.3,"y":273},{"t":"Structure Water","x":0.82,"y":256.7},{"t":"OH⁻","x":-0.25,"y":211}]},
"mark":{"type":"text","align":"center","baseline":"alphabetic","fontSize":14.5},
"encoding":{"x":{"field":"x","type":"quantitative","axis":null},"y":{"field":"y","type":"quantitative","axis":null},"text":{"field":"t"}}},
{"data":{"values":[{"t":"(a)","x":13.1,"y":253}]},
"mark":{"type":"text","align":"left","baseline":"alphabetic","fontSize":20},
"encoding":{"x":{"field":"x","type":"quantitative","axis":null},"y":{"field":"y","type":"quantitative","axis":null},"text":{"field":"t"}}}
],
"resolve":{"axis":{"x":"independent"}}},
{"width":337.2,"height":286,
"layer":[
{"data":{"name":"b"},"mark":{"type":"line","strokeWidth":1.1},
"encoding":{
"x":{"field":"x","type":"quantitative","scale":{"domain":[100,-100],"range":[12.8,337.2],"nice":false,"zero":false},"axis":{"orient":"bottom","values":[100,80,60,40,20,0,-20,-40,-60,-80,-100],"title":"⁴³Ca Chemical Shift  (ppm)","titlePadding":11}},
"y":{"field":"y","type":"quantitative","scale":{"domain":[0,286],"nice":false,"zero":false},"axis":null},
"color":{"field":"s","type":"nominal","scale":{"domain":["HA","FHA1","FHA2","FHA3","FHA4","FHA5","FHA6"],"range":["#111111","#ff2020","#22a022","#2244ff","#4f7a1f","#6a22cc","#4d1c1c"]},"legend":null}}},
{"data":{"values":[{"x":8.5,"y":1,"y2":258},{"x":-6,"y":1,"y2":258}]},
"mark":{"type":"rule","color":"#888","strokeWidth":1},
"encoding":{"x":{"field":"x","type":"quantitative","axis":null},"y":{"field":"y","type":"quantitative","axis":null},"y2":{"field":"y2"}}},
{"data":{"values":[{"s":"FHA6","x":98.3,"y":207.7},{"s":"FHA5","x":97.3,"y":172.7},{"s":"FHA4","x":98.3,"y":139.3},{"s":"FHA3","x":98.3,"y":110},{"s":"FHA2","x":98.3,"y":80},{"s":"FHA1","x":98.3,"y":46.7},{"s":"HA","x":98.3,"y":16}]},
"mark":{"type":"text","align":"left","baseline":"alphabetic","fontSize":16},
"encoding":{"x":{"field":"x","type":"quantitative","axis":{"orient":"bottom","values":[90,70,50,30,10,-10,-30,-50,-70,-90],"labels":false,"domain":false,"title":null,"tickSize":-2.5}},"y":{"field":"y","type":"quantitative","axis":null},"text":{"field":"s"}}},
{"data":{"values":[{"t":"Ca(II)","x":10,"y":265.3},{"t":"Ca(I)","x":-11.6,"y":265.3}]},
"mark":{"type":"text","align":"center","baseline":"alphabetic","fontSize":14},
"encoding":{"x":{"field":"x","type":"quantitative","axis":null},"y":{"field":"y","type":"quantitative","axis":null},"text":{"field":"t"}}},
{"data":{"values":[{"t":"(b)","x":98.3,"y":253}]},
"mark":{"type":"text","align":"left","baseline":"alphabetic","fontSize":20},
"encoding":{"x":{"field":"x","type":"quantitative","axis":null},"y":{"field":"y","type":"quantitative","axis":null},"text":{"field":"t"}}}
],
"resolve":{"axis":{"x":"independent"}}},
{"width":333.2,"height":281,
"layer":[
{"data":{"name":"c"},"mark":{"type":"line","interpolate":"monotone","strokeWidth":1.2},
"encoding":{
"x":{"field":"x","type":"quantitative","scale":{"domain":[10,-5],"nice":false,"zero":false},"axis":{"orient":"bottom","values":[10,8,6,4,2,0,-2,-4],"title":"³¹P Chemical Shift (ppm)","titlePadding":9}},
"y":{"field":"y","type":"quantitative","scale":{"domain":[0,281],"nice":false,"zero":false},"axis":null},
"color":{"field":"s","type":"nominal","scale":{"domain":["HA","FHA1","FHA2","FHA3","FHA4","FHA5","FHA6"],"range":["#111111","#ff2020","#4f7a1f","#2255ff","#6a22cc","#22a022","#4d1c1c"]},"legend":null},
"order":{"field":"x","type":"quantitative","sort":"descending"}}},
{"data":{"values":[{"s":"FHA6","x":9.97,"y":135.6},{"s":"FHA5","x":9.97,"y":116.6},{"s":"FHA4","x":9.97,"y":97.3},{"s":"FHA3","x":9.97,"y":78},{"s":"FHA2","x":9.97,"y":59},{"s":"FHA1","x":9.97,"y":39.6},{"s":"HA","x":9.97,"y":21.3}]},
"mark":{"type":"text","align":"left","baseline":"alphabetic","fontSize":14},
"encoding":{"x":{"field":"x","type":"quantitative","axis":{"orient":"bottom","values":[9,7,5,3,1,-1,-3,-5],"labels":false,"domain":false,"title":null,"tickSize":-2.5}},"y":{"field":"y","type":"quantitative","axis":null},"text":{"field":"s"}}},
{"data":{"values":[{"t":"(c)","x":9.93,"y":244}]},
"mark":{"type":"text","align":"left","baseline":"alphabetic","fontSize":20},
"encoding":{"x":{"field":"x","type":"quantitative","axis":null},"y":{"field":"y","type":"quantitative","axis":null},"text":{"field":"t"}}}
],
"resolve":{"axis":{"x":"independent"}}},
{"width":343.8,"height":281,
"layer":[
{"data":{"name":"d"},"mark":{"type":"line","strokeWidth":1.1},
"encoding":{
"x":{"field":"x","type":"quantitative","scale":{"domain":[-30,-170],"nice":false,"zero":false},"axis":{"orient":"bottom","values":[-40,-60,-80,-100,-120,-140,-160],"title":"¹⁹F Chemical Shift (ppm)","titlePadding":9}},
"y":{"field":"y","type":"quantitative","scale":{"domain":[0,281],"nice":false,"zero":false},"axis":null},
"color":{"field":"s","type":"nominal","scale":{"domain":["FHA1","FHA2","FHA3","FHA4","FHA5","FHA6"],"range":["#333333","#ff2020","#22a022","#2244ff","#4d1c1c","#5e7d20"]},"legend":null}}},
{"data":{"values":[{"s":"FHA6","x":-31.4,"y":184},{"s":"FHA5","x":-31.4,"y":147.3},{"s":"FHA4","x":-31.4,"y":115.6},{"s":"FHA3","x":-31.4,"y":83.3},{"s":"FHA2","x":-31.4,"y":51.3},{"s":"FHA1","x":-31.4,"y":20.6}]},
"mark":{"type":"text","align":"left","baseline":"alphabetic","fontSize":17},
"encoding":{"x":{"field":"x","type":"quantitative","axis":{"orient":"bottom","values":[-30,-50,-70,-90,-110,-130,-150,-170],"labels":false,"domain":false,"title":null,"tickSize":-2.5}},"y":{"field":"y","type":"quantitative","axis":null},"text":{"field":"s"}}},
{"data":{"values":[{"t":"*","x":-54.7,"y":188},{"t":"*","x":-79.2,"y":196},{"t":"*","x":-127.9,"y":228},{"t":"*","x":-153.3,"y":183.5}]},
"mark":{"type":"text","align":"center","baseline":"alphabetic","fontSize":20,"fontWeight":"bold"},
"encoding":{"x":{"field":"x","type":"quantitative","axis":null},"y":{"field":"y","type":"quantitative","axis":null},"text":{"field":"t"}}},
{"data":{"values":[{"t":"(d)","x":-30.2,"y":240}]},
"mark":{"type":"text","align":"left","baseline":"alphabetic","fontSize":20},
"encoding":{"x":{"field":"x","type":"quantitative","axis":null},"y":{"field":"y","type":"quantitative","axis":null},"text":{"field":"t"}}}
],
"resolve":{"axis":{"x":"independent"}}}
]
}
